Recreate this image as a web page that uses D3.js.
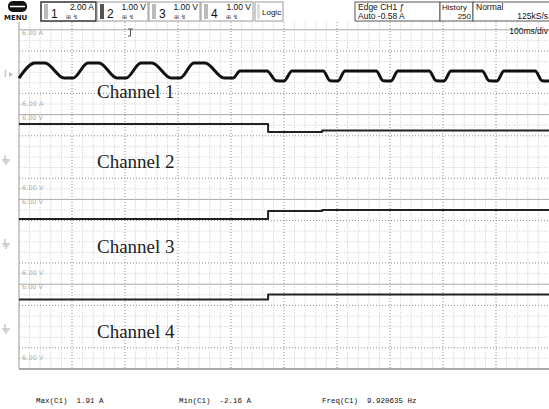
<!DOCTYPE html>
<html><head><meta charset="utf-8">
<script src="https://cdn.jsdelivr.net/npm/d3@7"></script>
<style>body{margin:0;background:#fff}svg{display:block}</style>
</head><body><svg id="c" width="549" height="409"></svg>
<script>
// ---- data ----
const channelNames = ["Channel 1", "Channel 2", "Channel 3", "Channel 4"];
const channelScales = ["2.00 A", "1.00 V", "1.00 V", "1.00 V"];
const zoneTopLabels = ["6.00 A", "6.00 V", "6.00 V", "6.00 V"];
const zoneBottomLabels = ["-6.00 A", "-6.00 V", "-6.00 V", "-6.00 V"];
// time in ms (100 ms/div, 10 divisions)
const ch1Time = [0,30,49,85,102,130,151,185,202,230,251,287,304,330,351,387,404,417,468,485,500,515,574,587,602,615,674,687,702,715,774,787,802,815,874,887,902,915,974,987,1000];
const ch1Amp  = [-1.5,1.9,1.91,-1.5,-1.5,1.9,1.9,-1.5,-1.5,1.9,1.9,-1.5,-1.5,1.9,1.9,-1.5,-1.5,0.1,0.1,-2.1,-2.16,0.1,0.1,-2.1,-2.16,0.1,0.1,-2.1,-2.16,0.1,0.1,-2.1,-2.16,0.1,0.1,-2.1,-2.16,0.1,0.1,-2.1,-2.16];
const ch2Time = [0,470,470,572,572,1000];
const ch2Volt = [4.85,4.85,3.53,3.53,3.78,3.78];
const ch3Time = [0,470,470,572,572,1000];
const ch3Volt = [3.17,3.17,4.5,4.5,4.67,4.67];
const ch4Time = [0,470,470,1000];
const ch4Volt = [3.94,3.94,4.84,4.84];
const readoutNames = ["Max(C1)", "Min(C1)", "Freq(C1)"];
const readoutValues = ["1.91 A", "-2.16 A", "9.920635 Hz"];
const triggerInfo = ["Edge CH1 \u0192", "Auto -0.58 A"];
const historyInfo = ["History", "250"];
const modeInfo = ["Normal", "125kS/s"];
const timeDivLabel = "100ms/div";

// ---- layout ----
const svg = d3.select("#c");
const L = 19, R = 549, T = 22, B = 369;
const x = d3.scaleLinear().domain([0, 1000]).range([L, R]);
const step = 10.6;
const ui = "'Liberation Sans', Arial, sans-serif";
const sans = "'DejaVu Sans', sans-serif";

// grid
const g = svg.append("g");
const vks = d3.range(1, 50);
g.selectAll(".vm").data(vks).join("line")
  .attr("x1", k => L + k*step).attr("x2", k => L + k*step)
  .attr("y1", T).attr("y2", B)
  .attr("stroke", k => k % 5 === 0 ? "#8a8a8a" : "#cccccc")
  .attr("stroke-width", 1)
  .attr("stroke-dasharray", k => k % 5 === 0 ? "1,2" : "1,1.5");
const hks = d3.range(1, 33);
g.selectAll(".hm").data(hks).join("line")
  .attr("x1", L).attr("x2", R)
  .attr("y1", k => B - k*step).attr("y2", k => B - k*step)
  .attr("stroke", k => (k % 8 === 0) ? "#aaa" : ((k % 8 === 2 || k % 8 === 6) ? "#8a8a8a" : "#d0d0d0"))
  .attr("stroke-width", 1)
  .attr("stroke-dasharray", k => (k % 8 === 0) ? null : ((k % 8 === 2 || k % 8 === 6) ? "1,2" : "1,1.5"));
// frame
svg.append("line").attr("x1", L).attr("x2", L).attr("y1", T).attr("y2", B).attr("stroke", "#999");
svg.append("line").attr("x1", L).attr("x2", R).attr("y1", B).attr("y2", B).attr("stroke", "#aaa").attr("stroke-width", 2);

// zones & scales
const zoneTop = [B - 32*step, B - 24*step, B - 16*step, B - 8*step];
const zoneBot = [B - 24*step, B - 16*step, B - 8*step, B];
const yScales = [
  d3.scaleLinear().domain([-6, 6]).range([71.4 + 6*4.42, 71.4 - 6*4.42]),
  d3.scaleLinear().domain([-6, 6]).range([190, 117]),
  d3.scaleLinear().domain([-6, 6]).range([274, 202]),
  d3.scaleLinear().domain([-6, 6]).range([355, 288])
];

// zone labels
const lab = svg.append("g").attr("font-family", sans).attr("font-size", 6.5).attr("fill", "#b0b0b0");
zoneTopLabels.forEach((t, i) => lab.append("text").attr("x", 22).attr("y", zoneTop[i] + 5).text(t));
zoneBottomLabels.forEach((t, i) => lab.append("text").attr("x", 20).attr("y", zoneBot[i] - 9).text(t));

// traces
const series = [[ch1Time, ch1Amp], [ch2Time, ch2Volt], [ch3Time, ch3Volt], [ch4Time, ch4Volt]];
series.forEach((s, i) => {
  const pts = s[0].map((t, j) => [t, s[1][j]]);
  const line = d3.line().x(d => x(d[0])).y(d => yScales[i](d[1]))
    .curve(i === 0 ? d3.curveMonotoneX : d3.curveLinear);
  svg.append("path").datum(pts).attr("d", line).attr("fill", "none")
    .attr("stroke", i === 0 ? "#111" : "#222").attr("stroke-width", i === 0 ? 3 : 2)
    .attr("stroke-linejoin", "round");
});

// channel name labels
const nameY = [98, 168, 253, 338];
channelNames.forEach((n, i) => svg.append("text").attr("x", 97).attr("y", nameY[i])
  .attr("font-family", "'Liberation Serif', serif").attr("font-size", 19).attr("fill", "#222").text(n));

// left markers
const mk = svg.append("g").attr("stroke", "#aaa").attr("fill", "none");
[160, 244, 329].forEach(yy => {
  mk.append("path").attr("d", `M5,${yy-5}V${yy}M2,${yy}H10M3.5,${yy+2}H8.5M5,${yy+4}H7`);
});
svg.append("text").attr("x", 4).attr("y", 77).attr("font-family", sans).attr("font-size", 9).attr("fill", "#aaa").text("I");
svg.append("path").attr("d", "M9,72L13,74.5L9,77Z").attr("fill", "#bbb");
// trigger marker
svg.append("path").attr("d", "M128,29H133M130.5,29V36M128,36H131").attr("stroke", "#555").attr("fill", "none");

// header
const hd = svg.append("g");
hd.append("rect").attr("x", 8).attr("y", 1).attr("width", 19).attr("height", 11).attr("rx", 5).attr("fill", "#111");
hd.append("line").attr("x1", 10).attr("x2", 25).attr("y1", 6.5).attr("y2", 6.5).attr("stroke", "#fff").attr("stroke-width", 1.5);
hd.append("text").attr("x", 4).attr("y", 20).attr("font-family", sans).attr("font-weight", "bold").attr("font-size", 7).attr("fill", "#111").text("MENU");
const boxes = [{x: 41, w: 55, bar: "#bbb", sel: true}, {x: 97, w: 51, bar: "#555"}, {x: 149, w: 51, bar: "#bbb"}, {x: 201, w: 52, bar: "#bbb"}];
boxes.forEach((b, i) => {
  hd.append("rect").attr("x", b.x).attr("y", 2).attr("width", b.w).attr("height", 19).attr("fill", "#fff")
    .attr("stroke", b.sel ? "#333" : "#999").attr("stroke-width", b.sel ? 1.5 : 1);
  hd.append("rect").attr("x", b.x + 3).attr("y", 4).attr("width", 4).attr("height", 15).attr("fill", b.bar);
  hd.append("text").attr("x", b.x + 10).attr("y", 18).attr("font-family", ui).attr("font-size", 12).attr("fill", "#111").text(i + 1);
  hd.append("text").attr("x", b.x + b.w - 2).attr("y", 10).attr("text-anchor", "end").attr("font-family", ui).attr("font-size", 8.5).attr("fill", "#111").text(channelScales[i]);
  hd.append("text").attr("x", b.x + 25).attr("y", 19).attr("font-family", sans).attr("font-size", 6).attr("fill", "#333").text("\u229e \u21af");
});
hd.append("rect").attr("x", 255).attr("y", 2).attr("width", 28).attr("height", 19).attr("fill", "#fff").attr("stroke", "#999");
hd.append("rect").attr("x", 257).attr("y", 4).attr("width", 3).attr("height", 15).attr("fill", "#ddd");
hd.append("text").attr("x", 262).attr("y", 15).attr("font-family", ui).attr("font-size", 8).attr("fill", "#111").text("Logic");
hd.append("rect").attr("x", 355).attr("y", 2).attr("width", 85).attr("height", 19).attr("fill", "#fff").attr("stroke", "#555");
hd.append("text").attr("x", 358).attr("y", 10).attr("font-family", ui).attr("font-size", 8.5).attr("fill", "#111").text(triggerInfo[0]);
hd.append("text").attr("x", 358).attr("y", 19).attr("font-family", ui).attr("font-size", 8.5).attr("fill", "#111").text(triggerInfo[1]);
hd.append("rect").attr("x", 440).attr("y", 2).attr("width", 33).attr("height", 19).attr("fill", "#fff").attr("stroke", "#555");
hd.append("text").attr("x", 442).attr("y", 10).attr("font-family", ui).attr("font-size", 8).attr("fill", "#111").text(historyInfo[0]);
hd.append("text").attr("x", 471).attr("y", 19).attr("text-anchor", "end").attr("font-family", ui).attr("font-size", 8).attr("fill", "#111").text(historyInfo[1]);
hd.append("rect").attr("x", 473).attr("y", 2).attr("width", 80).attr("height", 19).attr("fill", "#fff").attr("stroke", "#555");
hd.append("text").attr("x", 476).attr("y", 10).attr("font-family", ui).attr("font-size", 8.5).attr("fill", "#111").text(modeInfo[0]);
hd.append("text").attr("x", 548).attr("y", 19).attr("text-anchor", "end").attr("font-family", ui).attr("font-size", 8.5).attr("fill", "#111").text(modeInfo[1]);
svg.append("text").attr("x", 548).attr("y", 34).attr("text-anchor", "end").attr("font-family", ui).attr("font-size", 8.5).attr("fill", "#111").text(timeDivLabel);

// readouts
const rx = [36, 179, 322];
readoutNames.forEach((n, i) => svg.append("text").attr("x", rx[i]).attr("y", 403)
  .attr("font-family", "'Liberation Mono', monospace").attr("font-size", 7.5).attr("fill", "#111").attr("xml:space", "preserve")
  .text(n + "  " + readoutValues[i]));
</script></body></html>
